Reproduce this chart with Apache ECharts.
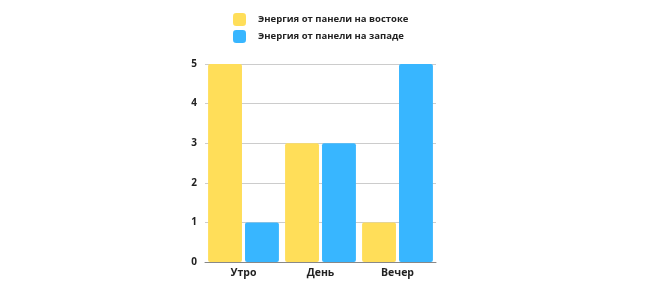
<!DOCTYPE html>
<html><head><meta charset="utf-8">
<script src="https://cdn.jsdelivr.net/npm/echarts@6/dist/echarts.min.js"></script>
<style>html,body{margin:0;padding:0;background:#fff}#c{width:650px;height:300px}</style>
</head><body><div id="c"></div>
<script>
const categories = ['Утро', 'День', 'Вечер'];
const eastValues = [5, 3, 1];
const westValues = [1, 3, 5];
const seriesNames = ['Энергия от панели на востоке', 'Энергия от панели на западе'];
const yTicks = [0, 1, 2, 3, 4, 5];

const chart = echarts.init(document.getElementById('c'));
const font = 'Open Sans';
chart.setOption({
  animation: false,
  legend: {
    orient: 'vertical', left: 228, top: 8, itemWidth: 13, itemHeight: 13, itemGap: 4,
    icon: 'roundRect',
    textStyle: { fontFamily: font, fontWeight: 'bold', fontSize: 9.5, color: '#222', padding: [0, 0, 0, 7] },
    data: seriesNames
  },
  grid: { left: 205, right: 214, top: 64, bottom: 38 },
  xAxis: {
    type: 'category', data: categories,
    axisLine: { lineStyle: { color: '#888' } }, axisTick: { show: false },
    axisLabel: { fontFamily: font, fontWeight: 'bold', fontSize: 10.5, color: '#222', margin: 6 }
  },
  yAxis: {
    type: 'value', min: yTicks[0], max: yTicks[yTicks.length - 1], interval: 1,
    axisLabel: { fontFamily: font, fontWeight: 'bold', fontSize: 10, color: '#222', margin: 8 },
    splitLine: { lineStyle: { color: '#ccc' } }
  },
  series: [
    { name: seriesNames[0], type: 'bar', data: eastValues, barGap: '9%', barCategoryGap: '8%',
      itemStyle: { color: '#FFDE59', borderRadius: 2 } },
    { name: seriesNames[1], type: 'bar', data: westValues,
      itemStyle: { color: '#38B6FF', borderRadius: 2 } }
  ]
});
</script></body></html>
